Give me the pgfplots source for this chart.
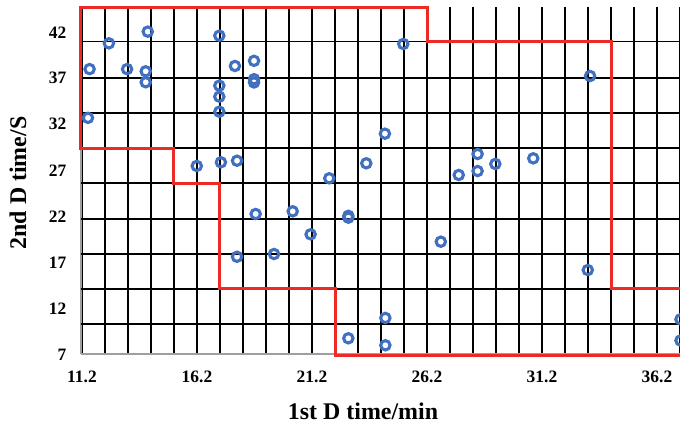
\documentclass[border=0pt]{standalone}
\usepackage{pgfplots}
\pgfplotsset{compat=1.18}
\usepackage{fontspec}
\setmainfont{Liberation Serif}

\definecolor{ptblue}{RGB}{66,112,192}
\definecolor{zonered}{RGB}{236,42,38}

% measured points: 1st D time (min), 2nd D time (s)
\pgfplotstableread{
x y
11.53 38.0
11.46 32.7
12.37 40.8
13.16 38.0
14.06 42.07
13.97 37.76
13.97 36.57
17.17 41.63
17.17 36.2
17.17 35.0
17.17 33.37
16.19 27.47
17.24 27.87
17.85 38.34
18.68 38.9
18.68 36.9
18.68 36.55
17.94 28.04
21.95 26.13
23.56 27.76
24.37 30.98
25.17 40.73
33.29 37.25
28.40 28.77
28.40 26.92
27.58 26.49
29.17 27.69
30.82 28.30
18.75 22.25
20.36 22.54
21.14 20.04
22.78 22.05
22.78 21.85
17.94 17.60
19.55 17.90
26.80 19.24
24.39 10.95
22.78 8.74
24.39 7.98
33.19 16.16
37.22 10.8
37.22 8.5
}\pointdata

\begin{document}
\begin{tikzpicture}
\begin{axis}[
  x=23bp, y=9.2bp,
  xmin=11.15, xmax=37.5, ymin=7, ymax=44.8,
  clip=false,
  axis x line=bottom, axis y line=left,
  axis line style={draw=gray!75, line width=1.6bp, -},
  xtick={11.2,16.2,21.2,26.2,31.2,36.2},
  xticklabels={11.2,16.2,21.2,26.2,31.2,36.2},
  minor xtick={12.2,13.2,14.2,15.2,17.2,18.2,19.2,20.2,22.2,23.2,24.2,25.2,27.2,28.2,29.2,30.2,32.2,33.2,34.2,35.2,37.2},
  xmajorgrids, xminorgrids,
  tick align=inside,
  major tick length=10bp, minor tick length=10bp,
  xtick style={draw=black, line width=2.4bp},
  ytick={7,12,17,22,27,32,37,42},
  yticklabels={7,12,17,22,27,32,37,42},
  ytick style={draw=none},
  extra y ticks={10.3,14.1,17.9,21.7,25.6,29.4,33.2,37.0,41.0},
  extra y tick labels={},
  extra y tick style={ymajorgrids=true},
  major grid style={black, line width=1.8bp},
  minor grid style={black, line width=1.8bp},
  /pgf/number format/assume math mode=true,
  tick label style={font=\bfseries\fontsize{17.5}{19}\selectfont},
  xticklabel style={yshift=-13bp},
  yticklabel style={xshift=-11bp},
  xlabel={1st D time/min},
  ylabel={2nd D time/S},
  xlabel style={at={(axis description cs:0.4656,-0.165)}, anchor=center,
    font=\bfseries\fontsize{24}{28}\selectfont},
  ylabel style={at={(axis description cs:-0.1037,0.4926)}, anchor=center,
    font=\bfseries\fontsize{24}{28}\selectfont},
]
% boundary of the region
\addplot[zonered, line width=3bp, line join=miter] coordinates {
  (37.6,14.1) (34.2,14.1) (34.2,41.0) (26.2,41.0) (26.2,44.72)
  (11.14,44.72) (11.14,29.4) (15.2,29.4) (15.2,25.6) (17.2,25.6)
  (17.2,14.1) (22.2,14.1) (22.2,6.85) (37.6,6.85)
};
\addplot[only marks, mark=o, mark size=4.7bp,
  mark options={draw=ptblue, line width=3.1bp}] table[x=x, y=y] {\pointdata};

\coordinate (bbsw) at (axis cs:7.6348,-0.685);
\coordinate (bbne) at (axis cs:37.2,45.511);
\end{axis}
\pgfresetboundingbox
\path[use as bounding box] (bbsw) rectangle (bbne);
\end{tikzpicture}
\end{document}
